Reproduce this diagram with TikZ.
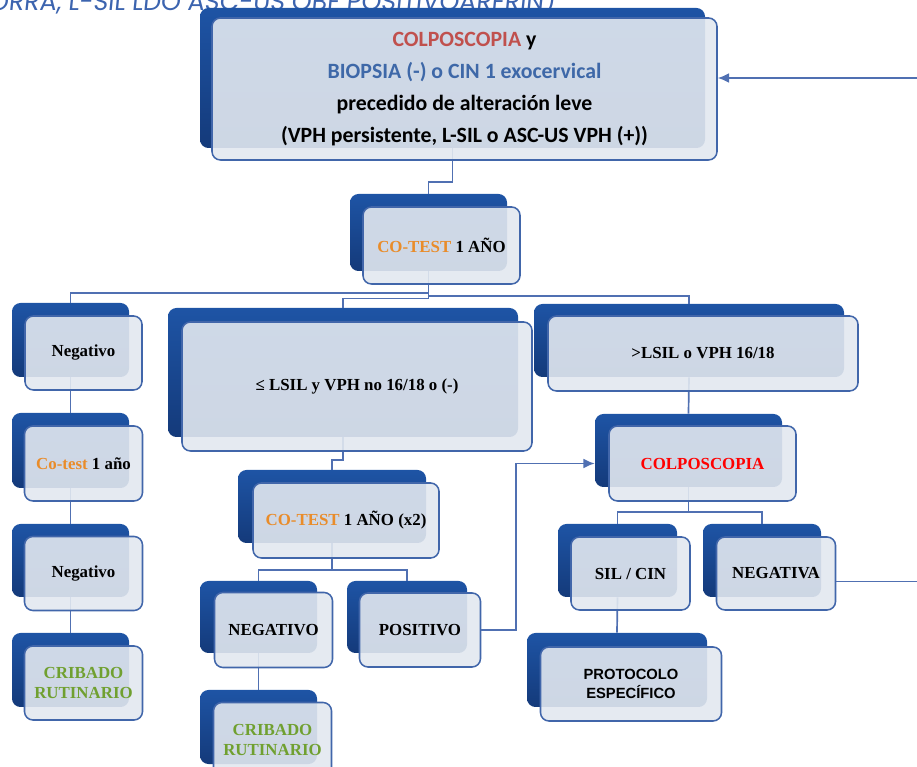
\documentclass[tikz,border=0pt]{standalone}
\usepackage{fontspec}
\setmainfont{Liberation Serif}
\newfontfamily\calibrifont{Carlito}
\newfontfamily\protfont{Liberation Sans}
\newfontfamily\headfont[FakeSlant=0.1]{Poppins}
\usetikzlibrary{arrows.meta}

\definecolor{boxblue}{RGB}{30,84,165}
\definecolor{boxdeep}{RGB}{20,58,122}
\definecolor{cardfill}{RGB}{226,232,240}
\definecolor{cardline}{RGB}{65,102,170}
\definecolor{linkblue}{RGB}{80,112,178}
\definecolor{brick}{RGB}{192,80,77}
\definecolor{biopsia}{RGB}{62,104,168}
\definecolor{cotestorange}{RGB}{233,140,42}
\definecolor{cribgreen}{RGB}{112,160,48}
\definecolor{headblue}{RGB}{60,100,175}

\begin{document}
\begin{tikzpicture}[
	% one unit is one pixel of the slide, y grows downwards
	x=0.025cm, y=-0.025cm
	]
	% Styles for the two-layer cards and the links.
	\tikzset{
		back/.style={rounded corners=6pt, top color=boxblue, bottom color=boxdeep, inner sep=0pt},
		front/.style={rounded corners=6pt, draw=cardline, line width=1.1pt, fill=cardfill, fill opacity=0.9, text opacity=1, align=center, inner sep=2pt, font=\bfseries\fontsize{12}{14}\selectfont},
		sz/.style 2 args={minimum width=#1*0.025cm, minimum height=#2*0.025cm},
		link/.style={draw=linkblue, line width=1.2pt},
		arr/.style={link, -{Latex[length=8pt, width=7pt]}}
	}
	\useasboundingbox (0,0) rectangle (917,767);
	
	% === TITLE (cut by the top edge) ===
	\node[anchor=base east, text=headblue, font=\headfont\fontsize{18}{20}\selectfont] (head) at (560,11) {ORRA, L-SIL LDO ASC-US OBF POSITIVOARERIN)};
	
	% === BACK CARDS ===
	\node[back, sz={505}{140}] (top) at (452.5,78) {};
	\node[back, sz={157}{77}] (cotest) at (428.5,232.5) {};
	\node[back, sz={117}{74}] (neg1) at (70.5,340) {};
	\node[back, sz={350}{129}] (mid) at (343,372.5) {};
	\node[back, sz={310}{73}] (high) at (689,340.5) {};
	\node[back, sz={117}{75}] (cot1) at (70.5,450.5) {};
	\node[back, sz={187}{73}] (colpo) at (688.5,450.5) {};
	\node[back, sz={188}{73}] (cotx2) at (332,506.5) {};
	\node[back, sz={117}{73}] (neg2) at (70.5,560.5) {};
	\node[back, sz={119}{73}] (sil) at (617.5,560.5) {};
	\node[back, sz={118}{73}] (negativa) at (762,560.5) {};
	\node[back, sz={117}{72}] (negmid) at (258.5,617) {};
	\node[back, sz={120}{72}] (pos) at (407,617) {};
	\node[back, sz={117}{74}] (crib1) at (70.5,670) {};
	\node[back, sz={180}{74}] (prot) at (617,670) {};
	\node[back, sz={117}{74}] (crib2) at (258.5,727) {};
	
	% === LINKS ===
	\draw[link] (top.south) |- ([yshift=0.3cm]cotest.north) -- (cotest.north);
	\draw[link] (cotest.south) |- ([yshift=0.25cm]neg1.north) -- (neg1.north);
	\draw[link] (cotest.south) |- ([yshift=0.23cm]mid.north) -- (mid.north);
	\draw[link] (cotest.south) |- ([yshift=0.2cm]high.north) -- (high.north);
	\draw[link] (neg1.south) -- (cot1.north);
	\draw[link] (cot1.south) -- (neg2.north);
	\draw[link] (neg2.south) -- (crib1.north);
	\draw[link] (mid.south) |- ([yshift=0.25cm]cotx2.north) -- (cotx2.north);
	\draw[link] (cotx2.south) |- ([yshift=0.27cm]negmid.north) -- (negmid.north);
	\draw[link] (cotx2.south) |- ([yshift=0.27cm]pos.north) -- (pos.north);
	\draw[link] (negmid.south) -- (crib2.north);
	\draw[link] (high.south) -- (colpo.north);
	\draw[link] (colpo.south) |- ([yshift=0.3cm]sil.north) -- (sil.north);
	\draw[link] (colpo.south) |- ([yshift=0.3cm]negativa.north) -- (negativa.north);
	\draw[link] (sil.south) -- (prot.north);
	
	% === FRONT CARDS ===
	\node[front, sz={505}{142}, font=\calibrifont\bfseries\fontsize{15.5}{22.7}\selectfont] (topc) at ([shift={(12,11)}]top.center) {{\color{brick}COLPOSCOPIA} y\\ {\color{biopsia}BIOPSIA (-) o CIN 1 exocervical}\\ precedido de alteración leve\\ (VPH persistente, L-SIL o ASC-US VPH (+))};
	\node[front, sz={157}{77}] (cotestc) at ([shift={(13,13)}]cotest.center) {{\color{cotestorange}CO-TEST} 1 AÑO};
	\node[front, sz={117}{74}] (neg1c) at ([shift={(13,13)}]neg1.center) {Negativo};
	\node[front, sz={350}{129}] (midc) at ([shift={(14,14)}]mid.center) {≤ LSIL y VPH no 16/18 o (-)};
	\node[front, sz={310}{75}] (highc) at ([shift={(14,13)}]high.center) {>LSIL o VPH 16/18};
	\node[front, sz={118}{75}] (cot1c) at ([shift={(13,13)}]cot1.center) {{\color{cotestorange}Co-test} 1 año};
	\node[front, sz={187}{75}] (colpoc) at ([shift={(14,13)}]colpo.center) {\color{red}COLPOSCOPIA};
	\node[front, sz={186}{75}] (cotx2c) at ([shift={(14,14)}]cotx2.center) {{\color{cotestorange}CO-TEST} 1 AÑO (x2)};
	\node[front, sz={118}{74}] (neg2c) at ([shift={(13,13)}]neg2.center) {Negativo};
	\node[front, sz={119}{73}] (silc) at ([shift={(13,13)}]sil.center) {SIL / CIN};
	\node[front, sz={119}{73}] (negativac) at ([shift={(14,13)}]negativa.center) {NEGATIVA};
	\node[front, sz={118}{75}] (negmidc) at ([shift={(15,13)}]negmid.center) {NEGATIVO};
	\node[front, sz={121}{74}] (posc) at ([shift={(13,13)}]pos.center) {POSITIVO};
	\node[front, sz={118}{74}, text=cribgreen] (crib1c) at ([shift={(13,13)}]crib1.center) {CRIBADO\\RUTINARIO};
	\node[front, sz={181}{74}, font=\protfont\bfseries\fontsize{10.5}{13.5}\selectfont] (protc) at ([shift={(14,14)}]prot.center) {PROTOCOLO\\ESPECÍFICO};
	\node[front, sz={118}{75}, text=cribgreen] (crib2c) at ([shift={(14,13)}]crib2.center) {CRIBADO\\RUTINARIO};
	
	% === FEEDBACK ARROWS ===
	\draw[arr] (posc.east) -- ++(35,0) |- (colpo.west |- colpoc.center);
	\draw[arr] ([yshift=-0.2cm]negativac.east) -- ++(110,0) |- (topc.east |- top.center);
\end{tikzpicture}
\end{document}
